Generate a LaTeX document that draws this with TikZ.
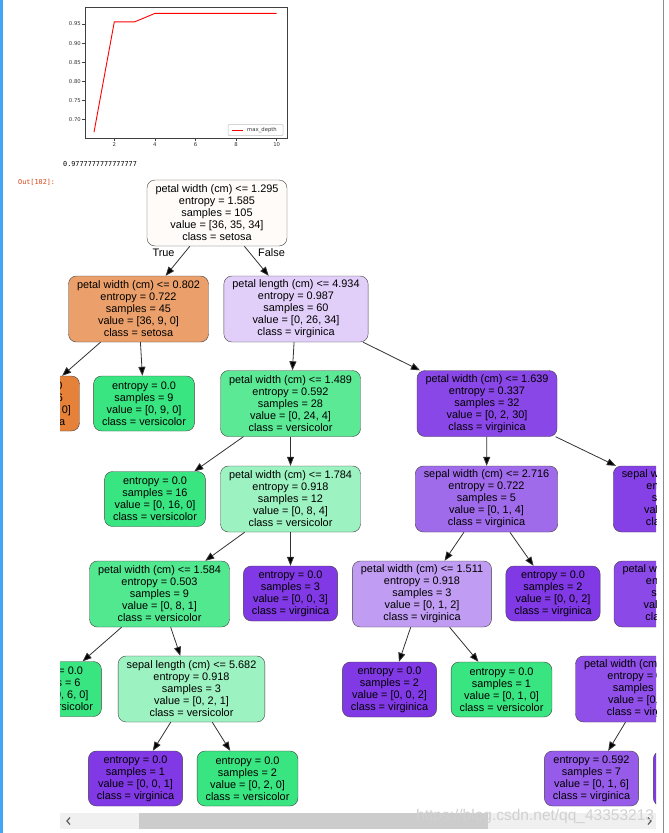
\documentclass[tikz,border=0pt]{standalone}
\usepackage{fontspec}
\setmainfont{Liberation Sans}
\newfontfamily\plotfont{DejaVu Sans}
\newfontfamily\codefont{DejaVu Sans Mono}
\usetikzlibrary{arrows.meta}
\definecolor{setosa}{HTML}{E58139}
\definecolor{versicolor}{HTML}{39E581}
\definecolor{virginica}{HTML}{8139E5}
\definecolor{cellblue}{HTML}{42A5F5}
\definecolor{outred}{HTML}{D84315}

\begin{document}
\begin{tikzpicture}[x=1pt,y=-1pt,>={Triangle[length=9pt,width=7pt]},
    split node/.style={draw=black!75,rounded corners=8pt,align=center,
      font=\fontsize{10.9}{12}\selectfont,inner xsep=8.5pt,inner ysep=2pt,
      minimum height=66pt},
    leaf node/.style={split node,minimum height=55pt},
    tick label/.style={font=\plotfont\fontsize{5.3}{6}\selectfont,text=black!80,inner sep=1pt},
    code text/.style={font=\codefont\fontsize{6.8}{8}\selectfont,inner sep=0pt,anchor=base west}]

  \useasboundingbox[fill=white] (0,0) rectangle (669,833);
  \fill[cellblue] (0,0) rectangle (2.7,833);
  \draw[black!45,line width=0.8pt] (663,0) -- (663,833);

  % max_depth curve
  \draw[black!75,line width=0.8pt] (85,7) rectangle (287,138);
  \foreach \i/\lab in {0/0.95,1/0.90,2/0.85,3/0.80,4/0.75,5/0.70} {
    \draw[black!75,line width=0.6pt] (82,24+19.1*\i) -- (85,24+19.1*\i);
    \node[tick label,anchor=east] (ylab\i) at (82,24+19.1*\i) {\lab};
  }
  \foreach \k in {2,4,6,8,10} {
    \draw[black!75,line width=0.6pt] (94+20.3*\k-20.3,138) -- (94+20.3*\k-20.3,141);
    \node[tick label,anchor=north] (xlab\k) at (94+20.3*\k-20.3,141.5) {\k};
  }
  \draw[red,line width=0.9pt] (94,132.2) -- (114.3,21.9) -- (134.6,21.9)
    -- (154.9,13.4) -- (276.7,13.4);
  \draw[black!25,fill=white,rounded corners=1pt,line width=0.5pt] (228,124.5) rectangle (283,135.5);
  \draw[red,line width=0.9pt] (232,130) -- (243,130);
  \node[tick label,anchor=west] (legend) at (246,130) {max\_depth};

  \node[code text] (score) at (63,166.5) {0.9777777777777777};
  \node[code text,text=outred] (out) at (18,184.5) {Out[102]:};

  \begin{scope}
  \clip (60,175) rectangle (656,810);
  \node[split node,fill=setosa!3] (0) at (217,213)
    {petal width (cm) <= 1.295\\entropy = 1.585\\samples = 105\\value = [36, 35, 34]\\class = setosa};
  \node[split node,fill=setosa!75] (1) at (138.5,309)
    {petal width (cm) <= 0.802\\entropy = 0.722\\samples = 45\\value = [36, 9, 0]\\class = setosa};
  \node[leaf node,fill=setosa] (2) at (30.5,403.5)
    {entropy = 0.0\\samples = 36\\value = [36, 0, 0]\\class = setosa};
  \node[leaf node,fill=versicolor] (3) at (144,403.5)
    {entropy = 0.0\\samples = 9\\value = [0, 9, 0]\\class = versicolor};
  \node[split node,fill=virginica!24] (4) at (296,309)
    {petal length (cm) <= 4.934\\entropy = 0.987\\samples = 60\\value = [0, 26, 34]\\class = virginica};
  \node[split node,fill=versicolor!83] (5) at (290.5,403.5)
    {petal width (cm) <= 1.489\\entropy = 0.592\\samples = 28\\value = [0, 24, 4]\\class = versicolor};
  \node[leaf node,fill=versicolor] (6) at (155,499)
    {entropy = 0.0\\samples = 16\\value = [0, 16, 0]\\class = versicolor};
  \node[split node,fill=versicolor!50] (7) at (290.5,499)
    {petal width (cm) <= 1.784\\entropy = 0.918\\samples = 12\\value = [0, 8, 4]\\class = versicolor};
  \node[split node,fill=versicolor!88] (8) at (159.5,594)
    {petal width (cm) <= 1.584\\entropy = 0.503\\samples = 9\\value = [0, 8, 1]\\class = versicolor};
  \node[leaf node,fill=versicolor] (9) at (51,689)
    {entropy = 0.0\\samples = 6\\value = [0, 6, 0]\\class = versicolor};
  \node[split node,fill=versicolor!50] (10) at (191.5,689)
    {sepal length (cm) <= 5.682\\entropy = 0.918\\samples = 3\\value = [0, 2, 1]\\class = versicolor};
  \node[leaf node,fill=virginica] (11) at (135.5,778.5)
    {entropy = 0.0\\samples = 1\\value = [0, 0, 1]\\class = virginica};
  \node[leaf node,fill=versicolor] (12) at (247.5,778.5)
    {entropy = 0.0\\samples = 2\\value = [0, 2, 0]\\class = versicolor};
  \node[leaf node,fill=virginica] (13) at (290.5,593.5)
    {entropy = 0.0\\samples = 3\\value = [0, 0, 3]\\class = virginica};
  \node[split node,fill=virginica!93] (14) at (487,403.5)
    {petal width (cm) <= 1.639\\entropy = 0.337\\samples = 32\\value = [0, 2, 30]\\class = virginica};
  \node[split node,fill=virginica!75] (15) at (486.5,499)
    {sepal width (cm) <= 2.716\\entropy = 0.722\\samples = 5\\value = [0, 1, 4]\\class = virginica};
  \node[split node,fill=virginica!50] (16) at (422,594)
    {petal width (cm) <= 1.511\\entropy = 0.918\\samples = 3\\value = [0, 1, 2]\\class = virginica};
  \node[leaf node,fill=virginica] (17) at (389.5,689.5)
    {entropy = 0.0\\samples = 2\\value = [0, 0, 2]\\class = virginica};
  \node[leaf node,fill=versicolor] (18) at (501.5,689.5)
    {entropy = 0.0\\samples = 1\\value = [0, 1, 0]\\class = versicolor};
  \node[leaf node,fill=virginica] (19) at (553,593.5)
    {entropy = 0.0\\samples = 2\\value = [0, 0, 2]\\class = virginica};
  \node[split node,fill=virginica!96] (20) at (684.5,499)
    {sepal width (cm) <= 3.150\\entropy = 0.228\\samples = 27\\value = [0, 1, 26]\\class = virginica};
  \node[split node,fill=virginica!92] (21) at (684,594)
    {petal width (cm) <= 1.850\\entropy = 0.391\\samples = 13\\value = [0, 1, 12]\\class = virginica};
  \node[split node,fill=virginica!89] (22) at (645.5,689)
    {petal width (cm) <= 1.950\\entropy = 0.469\\samples = 10\\value = [0, 1, 9]\\class = virginica};
  \node[leaf node,fill=virginica!83] (23) at (591.5,778.5)
    {entropy = 0.592\\samples = 7\\value = [0, 1, 6]\\class = virginica};
  \node[leaf node,fill=virginica] (24) at (700.5,778.5)
    {entropy = 0.0\\samples = 3\\value = [0, 0, 3]\\class = virginica};

  \path[->,draw=black!80,line width=0.8pt,
        every node/.style={font=\fontsize{10.9}{12}\selectfont}]
    (0) edge node[pos=0.23,left=6pt] (truelab) {True} (1)
        edge node[pos=0.23,right=4.5pt] (falselab) {False} (4)
    (1) edge (2)
        edge (3)
    (4) edge (5)
        edge (14)
    (5) edge (6)
        edge (7)
    (7) edge (8)
        edge (13)
    (8) edge (9)
        edge (10)
    (10) edge (11)
         edge (12)
    (14) edge (15)
         edge (20)
    (15) edge (16)
         edge (19)
    (16) edge (17)
         edge (18)
    (20) edge (21)
    (21) edge (22)
    (22) edge (23)
         edge (24);
  \end{scope}

  % scroll bar
  \fill[black!6] (60,813) rectangle (656,829);
  \fill[black!20] (139,813) rectangle (488,829);
  \draw[black!65,line width=1.2pt] (70,817.5) -- (67,821) -- (70,824.5);
  \draw[black!65,line width=1.2pt] (648,817.5) -- (651,821) -- (648,824.5);
  \node[anchor=base west,inner sep=0pt,text=black!18,font=\fontsize{15.5}{16}\selectfont]
    (mark) at (416,820) {https://blog.csdn.net/qq\_43353213};
\end{tikzpicture}
\end{document}
